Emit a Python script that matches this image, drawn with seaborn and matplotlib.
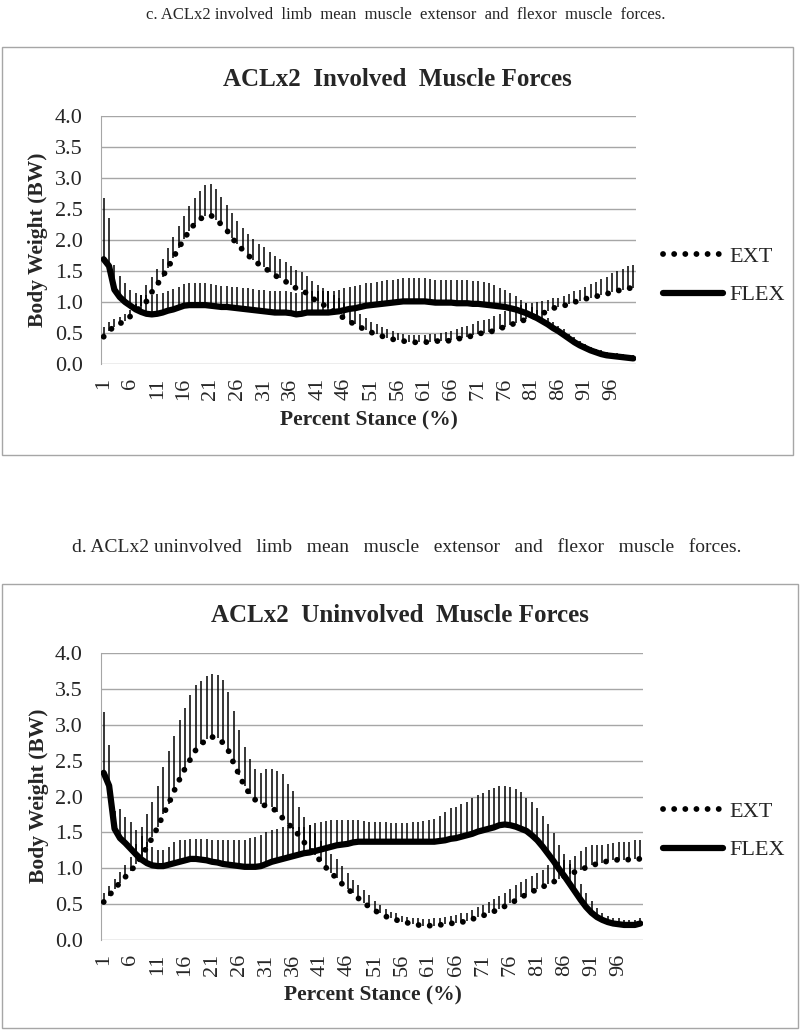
import numpy as np
import pandas as pd
import matplotlib
matplotlib.use('Agg')
import matplotlib.pyplot as plt
from matplotlib.patches import Rectangle
import seaborn as sns

stance = list(range(1, 101))
tick_pos = list(range(1, 101, 5))
y_ticks = [0.0, 0.5, 1.0, 1.5, 2.0, 2.5, 3.0, 3.5, 4.0]

# c. involved limb (mean and +SD, body weight)
inv_ext = [0.44, 0.54, 0.60, 0.65, 0.70, 0.77, 0.85, 0.93, 1.01, 1.16,
           1.28, 1.41, 1.55, 1.71, 1.87, 2.01, 2.15, 2.26, 2.34, 2.38,
           2.40, 2.33, 2.25, 2.16, 2.03, 1.93, 1.84, 1.75, 1.68, 1.61,
           1.56, 1.49, 1.43, 1.38, 1.33, 1.28, 1.22, 1.19, 1.14, 1.06,
           1.01, 0.96, 0.90, 0.85, 0.80, 0.73, 0.68, 0.64, 0.59, 0.55,
           0.51, 0.48, 0.45, 0.42, 0.40, 0.38, 0.37, 0.36, 0.35, 0.35,
           0.35, 0.36, 0.37, 0.37, 0.37, 0.38, 0.40, 0.42, 0.43, 0.46,
           0.49, 0.50, 0.51, 0.54, 0.57, 0.60, 0.63, 0.66, 0.69, 0.72,
           0.75, 0.78, 0.81, 0.86, 0.90, 0.92, 0.94, 0.97, 1.00, 1.02,
           1.05, 1.07, 1.09, 1.11, 1.13, 1.16, 1.18, 1.20, 1.22, 1.23]
inv_ext_sd = [0.15, 0.13, 0.12, 0.11, 0.10, 0.10, 0.12, 0.18, 0.26, 0.25,
              0.26, 0.28, 0.32, 0.34, 0.36, 0.37, 0.40, 0.42, 0.45, 0.50,
              0.50, 0.50, 0.45, 0.40, 0.40, 0.38, 0.36, 0.34, 0.33, 0.33,
              0.32, 0.32, 0.32, 0.32, 0.31, 0.30, 0.30, 0.29, 0.28, 0.28,
              0.27, 0.27, 0.27, 0.27, 0.26, 0.25, 0.24, 0.22, 0.21, 0.19,
              0.17, 0.16, 0.15, 0.14, 0.13, 0.12, 0.12, 0.11, 0.11, 0.11,
              0.11, 0.12, 0.12, 0.13, 0.14, 0.15, 0.16, 0.17, 0.18, 0.19,
              0.20, 0.21, 0.22, 0.23, 0.24, 0.25, 0.26, 0.26, 0.26, 0.26,
              0.24, 0.22, 0.20, 0.18, 0.16, 0.15, 0.15, 0.16, 0.17, 0.18,
              0.20, 0.22, 0.24, 0.26, 0.28, 0.30, 0.32, 0.34, 0.36, 0.37]
inv_flex = [1.69, 1.58, 1.20, 1.08, 1.00, 0.94, 0.88, 0.84, 0.81, 0.80,
            0.81, 0.83, 0.86, 0.88, 0.91, 0.94, 0.95, 0.95, 0.95, 0.95,
            0.94, 0.93, 0.92, 0.92, 0.91, 0.90, 0.89, 0.88, 0.87, 0.86,
            0.85, 0.84, 0.83, 0.83, 0.83, 0.82, 0.80, 0.81, 0.83, 0.83,
            0.83, 0.83, 0.83, 0.84, 0.85, 0.87, 0.89, 0.90, 0.92, 0.94,
            0.95, 0.96, 0.97, 0.98, 0.99, 1.00, 1.01, 1.01, 1.01, 1.01,
            1.01, 1.00, 0.99, 0.99, 0.99, 0.99, 0.98, 0.98, 0.98, 0.97,
            0.97, 0.96, 0.95, 0.94, 0.93, 0.92, 0.90, 0.88, 0.85, 0.82,
            0.78, 0.74, 0.69, 0.64, 0.58, 0.53, 0.47, 0.41, 0.35, 0.30,
            0.26, 0.22, 0.19, 0.16, 0.14, 0.13, 0.12, 0.11, 0.10, 0.09]
inv_flex_sd = [0.98, 0.78, 0.40, 0.34, 0.30, 0.26, 0.26, 0.28, 0.30, 0.32,
               0.32, 0.32, 0.32, 0.33, 0.34, 0.35, 0.36, 0.36, 0.36, 0.36,
               0.35, 0.34, 0.34, 0.34, 0.34, 0.34, 0.34, 0.34, 0.34, 0.34,
               0.34, 0.34, 0.34, 0.34, 0.34, 0.34, 0.35, 0.35, 0.34, 0.34,
               0.34, 0.34, 0.34, 0.34, 0.34, 0.35, 0.35, 0.36, 0.36, 0.36,
               0.36, 0.37, 0.37, 0.37, 0.37, 0.37, 0.37, 0.37, 0.37, 0.37,
               0.37, 0.37, 0.37, 0.37, 0.37, 0.37, 0.37, 0.37, 0.37, 0.37,
               0.37, 0.36, 0.35, 0.33, 0.30, 0.27, 0.24, 0.21, 0.18, 0.16,
               0.14, 0.13, 0.12, 0.11, 0.10, 0.09, 0.09, 0.08, 0.08, 0.07,
               0.07, 0.06, 0.06, 0.06, 0.05, 0.05, 0.05, 0.05, 0.05, 0.05]

# d. uninvolved limb
uninv_ext = [0.53, 0.62, 0.71, 0.80, 0.88, 0.96, 1.06, 1.17, 1.30, 1.43,
             1.58, 1.75, 1.90, 2.08, 2.24, 2.39, 2.52, 2.65, 2.73, 2.80,
             2.83, 2.81, 2.75, 2.64, 2.46, 2.30, 2.14, 2.03, 1.95, 1.89,
             1.87, 1.85, 1.78, 1.70, 1.62, 1.55, 1.46, 1.36, 1.27, 1.19,
             1.10, 1.01, 0.93, 0.86, 0.78, 0.71, 0.65, 0.58, 0.52, 0.46,
             0.41, 0.37, 0.33, 0.30, 0.28, 0.25, 0.24, 0.22, 0.21, 0.20,
             0.20, 0.20, 0.21, 0.22, 0.23, 0.24, 0.25, 0.26, 0.29, 0.32,
             0.34, 0.37, 0.40, 0.43, 0.47, 0.51, 0.55, 0.60, 0.63, 0.67,
             0.71, 0.74, 0.78, 0.81, 0.85, 0.89, 0.92, 0.95, 0.98, 1.01,
             1.04, 1.06, 1.08, 1.10, 1.11, 1.12, 1.12, 1.12, 1.13, 1.13]
uninv_ext_sd = [0.12, 0.13, 0.14, 0.15, 0.16, 0.20, 0.28, 0.40, 0.45, 0.50,
                0.57, 0.66, 0.74, 0.77, 0.82, 0.85, 0.89, 0.91, 0.88, 0.88,
                0.88, 0.89, 0.88, 0.81, 0.73, 0.62, 0.55, 0.49, 0.43, 0.44,
                0.51, 0.53, 0.58, 0.62, 0.55, 0.52, 0.40, 0.36, 0.33, 0.30,
                0.28, 0.27, 0.27, 0.27, 0.25, 0.22, 0.18, 0.18, 0.18, 0.17,
                0.14, 0.12, 0.10, 0.09, 0.09, 0.08, 0.08, 0.08, 0.09, 0.09,
                0.09, 0.10, 0.10, 0.10, 0.11, 0.11, 0.12, 0.12, 0.13, 0.14,
                0.15, 0.16, 0.17, 0.18, 0.19, 0.20, 0.21, 0.21, 0.22, 0.22,
                0.22, 0.24, 0.26, 0.26, 0.24, 0.22, 0.20, 0.22, 0.26, 0.29,
                0.28, 0.26, 0.25, 0.24, 0.24, 0.24, 0.24, 0.25, 0.26, 0.27]
uninv_flex = [2.33, 2.15, 1.55, 1.42, 1.35, 1.27, 1.19, 1.12, 1.07, 1.04,
              1.03, 1.03, 1.05, 1.07, 1.09, 1.11, 1.13, 1.13, 1.12, 1.11,
              1.09, 1.08, 1.06, 1.05, 1.04, 1.03, 1.02, 1.02, 1.02, 1.03,
              1.06, 1.09, 1.11, 1.13, 1.15, 1.17, 1.19, 1.21, 1.22, 1.24,
              1.26, 1.28, 1.30, 1.32, 1.33, 1.34, 1.36, 1.37, 1.37, 1.37,
              1.37, 1.37, 1.37, 1.37, 1.37, 1.37, 1.37, 1.37, 1.37, 1.37,
              1.37, 1.37, 1.38, 1.39, 1.41, 1.42, 1.44, 1.46, 1.48, 1.51,
              1.53, 1.55, 1.57, 1.60, 1.61, 1.60, 1.58, 1.55, 1.52, 1.46,
              1.39, 1.30, 1.20, 1.10, 0.99, 0.89, 0.78, 0.67, 0.56, 0.46,
              0.38, 0.32, 0.28, 0.25, 0.23, 0.22, 0.21, 0.21, 0.21, 0.23]
uninv_flex_sd = [0.85, 0.57, 0.25, 0.40, 0.37, 0.37, 0.35, 0.33, 0.30, 0.26,
                 0.23, 0.23, 0.25, 0.30, 0.30, 0.29, 0.28, 0.28, 0.29, 0.30,
                 0.31, 0.32, 0.34, 0.35, 0.36, 0.37, 0.38, 0.40, 0.42, 0.44,
                 0.44, 0.44, 0.44, 0.44, 0.42, 0.40, 0.38, 0.36, 0.38, 0.39,
                 0.39, 0.38, 0.37, 0.35, 0.34, 0.33, 0.31, 0.30, 0.29, 0.28,
                 0.28, 0.27, 0.27, 0.26, 0.26, 0.26, 0.26, 0.27, 0.28, 0.29,
                 0.30, 0.32, 0.35, 0.40, 0.43, 0.44, 0.46, 0.47, 0.50, 0.51,
                 0.52, 0.54, 0.55, 0.55, 0.54, 0.53, 0.53, 0.51, 0.46, 0.47,
                 0.45, 0.43, 0.41, 0.39, 0.34, 0.31, 0.28, 0.25, 0.22, 0.20,
                 0.16, 0.13, 0.10, 0.09, 0.08, 0.08, 0.07, 0.07, 0.07, 0.07]

sns.set_style('white')
plt.rcParams['font.family'] = ['Liberation Serif', 'DejaVu Serif']

W, H = 800, 1030
fig = plt.figure(figsize=(W / 100, H / 100), dpi=100)


def fx(px):
    return px / W


def fy(py):
    return 1 - py / H


def draw_panel(rect, ext, ext_sd, flex, flex_sd, legend_y):
    ax = fig.add_axes(rect)
    df = pd.DataFrame({'Stance': stance, 'EXT': ext, 'EXT_SD': ext_sd,
                       'FLEX': flex, 'FLEX_SD': flex_sd})
    zeros = np.zeros(len(df))
    ax.errorbar(df['Stance'], df['EXT'], yerr=[zeros, df['EXT_SD']], fmt='none',
                ecolor='black', elinewidth=1.1, capsize=0, zorder=2)
    ax.errorbar(df['Stance'], df['FLEX'], yerr=[zeros, df['FLEX_SD']], fmt='none',
                ecolor='black', elinewidth=1.1, capsize=0, zorder=2)
    sns.lineplot(data=df, x='Stance', y='EXT', ax=ax, color='black', linewidth=4.2,
                 linestyle=(0, (0.01, 1.9)), dash_capstyle='round', label='EXT', zorder=3)
    sns.lineplot(data=df, x='Stance', y='FLEX', ax=ax, color='black', linewidth=4.5,
                 solid_capstyle='round', label='FLEX', zorder=4)

    ax.set_xlim(0.5, 100.5)
    ax.set_ylim(0, 4)
    ax.set_xticks(tick_pos)
    ax.set_xticklabels([str(t) for t in tick_pos], rotation=90, fontsize=16)
    ax.set_yticks(y_ticks)
    ax.set_yticklabels([f'{v:.1f}' for v in y_ticks], fontsize=16)
    ax.tick_params(axis='both', length=0)
    ax.tick_params(axis='y', pad=13)
    ax.tick_params(axis='x', pad=10)
    ax.yaxis.grid(True, color='#a6a6a6', linewidth=1.0)
    ax.set_axisbelow(True)
    for side in ['top', 'right', 'bottom']:
        ax.spines[side].set_visible(False)
    ax.spines['left'].set_color('#a6a6a6')
    ax.set_xlabel('')
    ax.set_ylabel('')
    ax.legend(loc='center left', bbox_to_anchor=(fx(663), fy(legend_y)),
              bbox_transform=fig.transFigure, frameon=False, fontsize=16,
              handlelength=2.7, handletextpad=0.3, labelspacing=0.8,
              borderpad=0, borderaxespad=0)
    return ax


# panel c
fig.add_artist(Rectangle((fx(2), fy(455)), fx(791), 408 / H, transform=fig.transFigure,
                         fill=False, edgecolor='#a6a6a6', linewidth=1))
fig.text(fx(406), fy(15), 'c. ACLx2 involved  limb  mean  muscle  extensor  and  flexor  muscle  forces.',
         ha='center', va='center', fontsize=12)
draw_panel([fx(101), fy(364), fx(535), 248 / H], inv_ext, inv_ext_sd, inv_flex, inv_flex_sd, 276)
fig.text(fx(397), fy(79), 'ACLx2  Involved  Muscle Forces', ha='center', va='center',
         fontsize=18, fontweight='bold')
fig.text(fx(38), fy(240), 'Body Weight (BW)', rotation=90, ha='center', va='center',
         fontsize=15.5, fontweight='bold')
fig.text(fx(369), fy(420), 'Percent Stance (%)', ha='center', va='center',
         fontsize=15.5, fontweight='bold')

# panel d
fig.add_artist(Rectangle((fx(2), fy(1028)), fx(796), 444 / H, transform=fig.transFigure,
                         fill=False, edgecolor='#a6a6a6', linewidth=1))
fig.text(fx(407), fy(548), 'd. ACLx2 uninvolved   limb   mean   muscle   extensor   and   flexor   muscle   forces.',
         ha='center', va='center', fontsize=14)
draw_panel([fx(101), fy(940), fx(542), 287 / H], uninv_ext, uninv_ext_sd, uninv_flex, uninv_flex_sd, 831)
fig.text(fx(400), fy(615), 'ACLx2  Uninvolved  Muscle Forces', ha='center', va='center',
         fontsize=18, fontweight='bold')
fig.text(fx(39), fy(796), 'Body Weight (BW)', rotation=90, ha='center', va='center',
         fontsize=15.5, fontweight='bold')
fig.text(fx(373), fy(995), 'Percent Stance (%)', ha='center', va='center',
         fontsize=15.5, fontweight='bold')

fig.savefig('out.png', dpi=100)
